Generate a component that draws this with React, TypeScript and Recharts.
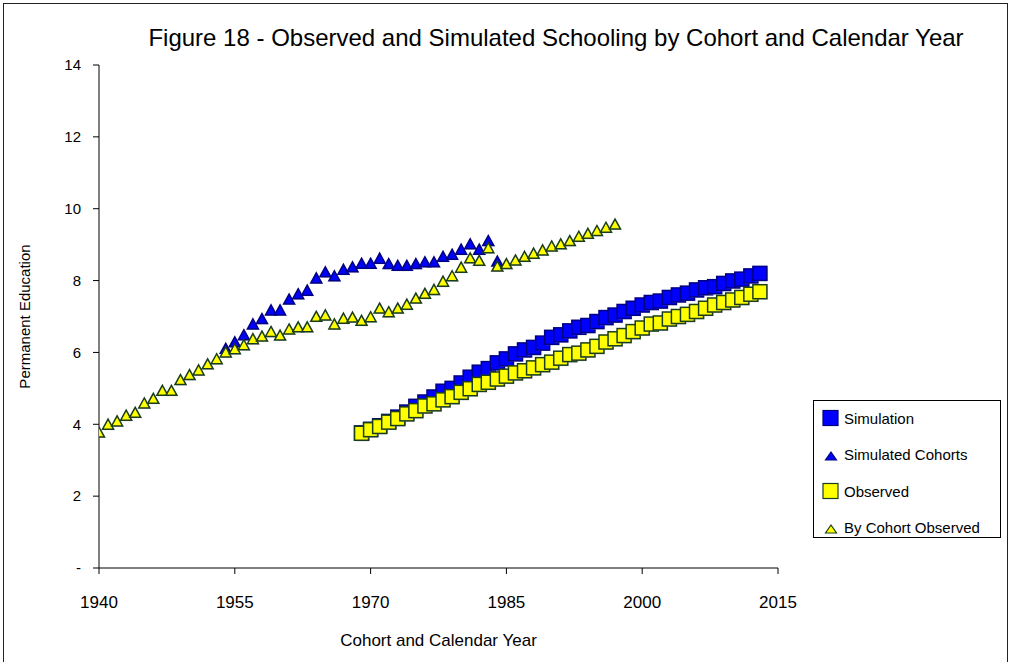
import { ScatterChart, Scatter, XAxis, YAxis, Legend } from 'recharts';

const squareYears = [
  1969, 1970, 1971, 1972, 1973, 1974, 1975, 1976, 1977, 1978, 1979, 1980, 1981, 1982, 1983,
  1984, 1985, 1986, 1987, 1988, 1989, 1990, 1991, 1992, 1993, 1994, 1995, 1996, 1997, 1998,
  1999, 2000, 2001, 2002, 2003, 2004, 2005, 2006, 2007, 2008, 2009, 2010, 2011, 2012, 2013,
];

const simulation = [
  3.76, 3.86, 3.96, 4.08, 4.2, 4.34, 4.5, 4.62, 4.76, 4.92, 5.0, 5.15, 5.31, 5.45, 5.55,
  5.71, 5.82, 5.96, 6.07, 6.14, 6.26, 6.42, 6.49, 6.6, 6.7, 6.75, 6.86, 6.97, 7.04, 7.14,
  7.23, 7.32, 7.39, 7.43, 7.53, 7.6, 7.65, 7.74, 7.8, 7.83, 7.92, 7.99, 8.04, 8.13, 8.2,
];

const observed = [
  3.75, 3.85, 3.94, 4.06, 4.16, 4.29, 4.38, 4.51, 4.57, 4.68, 4.77, 4.89, 4.99, 5.11, 5.17,
  5.26, 5.34, 5.43, 5.49, 5.57, 5.66, 5.73, 5.84, 5.94, 5.98, 6.07, 6.17, 6.29, 6.38, 6.47,
  6.58, 6.68, 6.79, 6.82, 6.93, 7.0, 7.06, 7.14, 7.23, 7.32, 7.39, 7.46, 7.53, 7.62, 7.69,
];

const simCohortYears = [
  1954, 1955, 1956, 1957, 1958, 1959, 1960, 1961, 1962, 1963, 1964, 1965, 1966, 1967, 1968,
  1969, 1970, 1971, 1972, 1973, 1974, 1975, 1976, 1977, 1978, 1979, 1980, 1981, 1982, 1983, 1984,
];

const simulatedCohorts = [
  6.1, 6.28, 6.48, 6.78, 6.93, 7.17, 7.17, 7.47, 7.62, 7.72, 8.06, 8.23, 8.12, 8.3, 8.37,
  8.47, 8.47, 8.61, 8.46, 8.41, 8.41, 8.46, 8.51, 8.51, 8.66, 8.72, 8.86, 9.01, 8.86, 9.1, 8.53,
];

const obsCohortYears = [
  1940, 1941, 1942, 1943, 1944, 1945, 1946, 1947, 1948, 1949, 1950, 1951, 1952, 1953, 1954,
  1955, 1956, 1957, 1958, 1959, 1960, 1961, 1962, 1963, 1964, 1965, 1966, 1967, 1968, 1969,
  1970, 1971, 1972, 1973, 1974, 1975, 1976, 1977, 1978, 1979, 1980, 1981, 1982, 1983, 1984,
  1985, 1986, 1987, 1988, 1989, 1990, 1991, 1992, 1993, 1994, 1995, 1996, 1997,
];

const byCohortObserved = [
  3.77, 3.99, 4.08, 4.24, 4.32, 4.58, 4.71, 4.93, 4.93, 5.23, 5.37, 5.5, 5.67, 5.81, 6.0,
  6.09, 6.2, 6.37, 6.44, 6.57, 6.47, 6.64, 6.7, 6.7, 6.99, 7.03, 6.78, 6.94, 6.97, 6.88,
  6.98, 7.22, 7.12, 7.22, 7.33, 7.5, 7.63, 7.74, 7.97, 8.12, 8.36, 8.62, 8.55, 8.9, 8.39,
  8.46, 8.56, 8.66, 8.75, 8.84, 8.95, 9.01, 9.1, 9.22, 9.3, 9.38, 9.47, 9.56,
];

const xTicks = [1940, 1955, 1970, 1985, 2000, 2015];
const yTicks = [0, 2, 4, 6, 8, 10, 12, 14];

const FONT = '"Liberation Sans", Arial, sans-serif';
const BLUE = '#0000ff';
const BLUE_EDGE = '#000080';
const YELLOW = '#ffff00';
const YELLOW_EDGE = '#1a3d1a';

const toPoints = (years: number[], values: number[]) =>
  years.map((year, i) => ({ year, value: values[i] }));

const makeSquare = (fill: string, stroke: string) => (props: any) => {
  const { cx, cy } = props;
  return (
    <g>
      <rect x={cx - 6} y={cy - 6} width={14} height={14} fill="#a0a0c8" opacity={0.5} />
      <rect x={cx - 7} y={cy - 7} width={14} height={14} fill={fill} stroke={stroke} strokeWidth={1.5} />
    </g>
  );
};

const makeTriangle = (fill: string, stroke: string) => (props: any) => {
  const { cx, cy } = props;
  const pts = (dx: number, dy: number) =>
    `${cx + dx},${cy - 5.5 + dy} ${cx + 5.5 + dx},${cy + 4.5 + dy} ${cx - 5.5 + dx},${cy + 4.5 + dy}`;
  return (
    <g>
      <polygon points={pts(1, 1)} fill="#a0a0c8" opacity={0.5} />
      <polygon points={pts(0, 0)} fill={fill} stroke={stroke} strokeWidth={1.5} strokeLinejoin="miter" />
    </g>
  );
};

const series = [
  { name: 'Simulation', kind: 'square', fill: BLUE, stroke: BLUE_EDGE },
  { name: 'Simulated Cohorts', kind: 'triangle', fill: BLUE, stroke: BLUE_EDGE },
  { name: 'Observed', kind: 'square', fill: YELLOW, stroke: YELLOW_EDGE },
  { name: 'By Cohort Observed', kind: 'triangle', fill: YELLOW, stroke: YELLOW_EDGE },
];

const LegendBox = () => (
  <div
    style={{
      width: 186,
      height: 136,
      border: '1px solid #000',
      background: '#fff',
      position: 'relative',
      fontFamily: FONT,
      fontSize: 15,
      color: '#000',
    }}
  >
    {series.map((s, i) => (
      <div
        key={s.name}
        style={{ position: 'absolute', left: 0, top: 7 + i * 36.5, height: 20, display: 'flex', alignItems: 'center' }}
      >
        <svg width={30} height={20}>
          {s.kind === 'square' ? (
            <rect x={9} y={2.5} width={15} height={15} fill={s.fill} stroke={s.stroke} strokeWidth={1.2} />
          ) : (
            <polygon points="17,7 22.5,15 11.5,15" fill={s.fill} stroke={s.stroke} strokeWidth={1.2} />
          )}
        </svg>
        <span style={{ whiteSpace: 'nowrap' }}>{s.name}</span>
      </div>
    ))}
  </div>
);

export default function App() {
  return (
    <div style={{ position: 'absolute', left: 0, top: 0, width: 1013, height: 662, background: '#fff', overflow: 'hidden' }}>
      <div
        style={{
          position: 'absolute',
          left: 3,
          top: 3,
          width: 1005,
          height: 670,
          border: '1px solid #222',
          boxSizing: 'border-box',
        }}
      />
      <div
        style={{
          position: 'absolute',
          left: 556,
          top: 24,
          transform: 'translateX(-50%)',
          whiteSpace: 'nowrap',
          fontFamily: FONT,
          fontSize: 24,
          color: '#000',
        }}
      >
        Figure 18 - Observed and Simulated Schooling by Cohort and Calendar Year
      </div>
      <ScatterChart width={1013} height={662} margin={{ top: 65, right: 235, bottom: 0, left: 0 }}>
        <XAxis
          dataKey="year"
          type="number"
          domain={[1940, 2015]}
          ticks={xTicks}
          allowDataOverflow
          height={94}
          tickSize={6}
          tickMargin={22}
          stroke="#000"
          tick={{ fontSize: 17, fill: '#000', fontFamily: FONT }}
          label={{
            value: 'Cohort and Calendar Year',
            position: 'insideBottom',
            offset: 16,
            style: { fontSize: 17, fill: '#000', fontFamily: FONT },
          }}
        />
        <YAxis
          dataKey="value"
          type="number"
          domain={[0, 14]}
          ticks={yTicks}
          width={99}
          tickSize={6}
          tickMargin={12}
          stroke="#000"
          tickFormatter={(v: number) => (v === 0 ? '-' : String(v))}
          tick={{ fontSize: 15, fill: '#000', fontFamily: FONT }}
          label={{
            value: 'Permanent Education',
            angle: -90,
            position: 'insideLeft',
            offset: 25,
            style: { fontSize: 15, fill: '#000', fontFamily: FONT, textAnchor: 'middle' },
          }}
        />
        <Legend
          layout="horizontal"
          verticalAlign="middle"
          align="center"
          wrapperStyle={{ left: 813, top: 400, width: 188, height: 138 }}
          content={() => <LegendBox />}
        />
        <Scatter
          name="Simulation"
          data={toPoints(squareYears, simulation)}
          shape={makeSquare(BLUE, BLUE_EDGE)}
          isAnimationActive={false}
        />
        <Scatter
          name="Simulated Cohorts"
          data={toPoints(simCohortYears, simulatedCohorts)}
          shape={makeTriangle(BLUE, BLUE_EDGE)}
          isAnimationActive={false}
        />
        <Scatter
          name="Observed"
          data={toPoints(squareYears, observed)}
          shape={makeSquare(YELLOW, YELLOW_EDGE)}
          isAnimationActive={false}
        />
        <Scatter
          name="By Cohort Observed"
          data={toPoints(obsCohortYears, byCohortObserved)}
          shape={makeTriangle(YELLOW, YELLOW_EDGE)}
          isAnimationActive={false}
        />
      </ScatterChart>
    </div>
  );
}
